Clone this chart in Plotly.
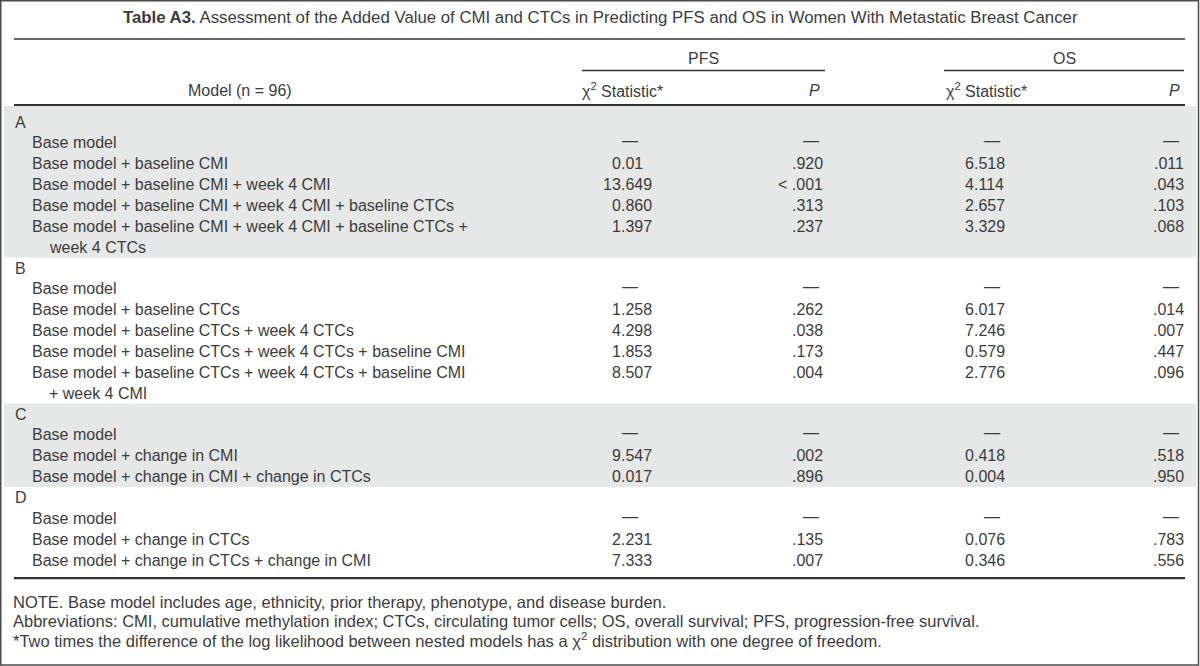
import plotly.graph_objects as go

# ---------------- data ----------------
title_bold = "Table A3."
title_rest = "Assessment of the Added Value of CMI and CTCs in Predicting PFS and OS in Women With Metastatic Breast Cancer"
model_header = "Model (n = 96)"
group_headers = ["PFS", "OS"]
stat_header = "χ<sup>2</sup> Statistic*"
p_header = "<i>P</i>"

section_labels = ["A", "B", "C", "D"]

models_A = ["Base model", "Base model + baseline CMI", "Base model + baseline CMI + week 4 CMI",
            "Base model + baseline CMI + week 4 CMI + baseline CTCs",
            "Base model + baseline CMI + week 4 CMI + baseline CTCs +|week 4 CTCs"]
pfs_chi_A = ["—", "0.01", "13.649", "0.860", "1.397"]
pfs_p_A = ["—", ".920", "< .001", ".313", ".237"]
os_chi_A = ["—", "6.518", "4.114", "2.657", "3.329"]
os_p_A = ["—", ".011", ".043", ".103", ".068"]

models_B = ["Base model", "Base model + baseline CTCs", "Base model + baseline CTCs + week 4 CTCs",
            "Base model + baseline CTCs + week 4 CTCs + baseline CMI",
            "Base model + baseline CTCs + week 4 CTCs + baseline CMI|+ week 4 CMI"]
pfs_chi_B = ["—", "1.258", "4.298", "1.853", "8.507"]
pfs_p_B = ["—", ".262", ".038", ".173", ".004"]
os_chi_B = ["—", "6.017", "7.246", "0.579", "2.776"]
os_p_B = ["—", ".014", ".007", ".447", ".096"]

models_C = ["Base model", "Base model + change in CMI", "Base model + change in CMI + change in CTCs"]
pfs_chi_C = ["—", "9.547", "0.017"]
pfs_p_C = ["—", ".002", ".896"]
os_chi_C = ["—", "0.418", "0.004"]
os_p_C = ["—", ".518", ".950"]

models_D = ["Base model", "Base model + change in CTCs", "Base model + change in CTCs + change in CMI"]
pfs_chi_D = ["—", "2.231", "7.333"]
pfs_p_D = ["—", ".135", ".007"]
os_chi_D = ["—", "0.076", "0.346"]
os_p_D = ["—", ".783", ".556"]

footnotes = [
    "NOTE. Base model includes age, ethnicity, prior therapy, phenotype, and disease burden.",
    "Abbreviations: CMI, cumulative methylation index; CTCs, circulating tumor cells; OS, overall survival; PFS, progression-free survival.",
    "*Two times the difference of the log likelihood between nested models has a χ<sup>2</sup> distribution with one degree of freedom.",
]

sections = [
    (models_A, pfs_chi_A, pfs_p_A, os_chi_A, os_p_A),
    (models_B, pfs_chi_B, pfs_p_B, os_chi_B, os_p_B),
    (models_C, pfs_chi_C, pfs_p_C, os_chi_C, os_p_C),
    (models_D, pfs_chi_D, pfs_p_D, os_chi_D, os_p_D),
]

# ---------------- style / layout ----------------
W, H = 1200, 666
FONT = "Liberation Sans"
TXT = "#3c3c3c"
LINE = "#333333"
BAND = "#e6e7e7"
FS = 16

X_SEC = 15
X_MODEL = 32
X_CONT = 49
X_PFS_DEC = 621
X_PFS_DASH = 630
X_PFS_P = 823
X_OS_DEC = 974
X_OS_DASH = 992
X_OS_P = 1184
RULE_L, RULE_R = 14, 1185

Y_FIRST = 122
STEP = 20.86
Y_HEADER_LINE = 105

fig = go.Figure()
fig.add_trace(go.Scatter(x=[0, W], y=[0, H], mode="markers", marker=dict(opacity=0), hoverinfo="skip"))

ann = []
shapes = []


def text(x, y, s, anchor="left", size=FS, color=TXT):
    ann.append(dict(x=x, y=y, xref="x", yref="y", text=s, showarrow=False, xanchor=anchor,
                    yanchor="middle", font=dict(family=FONT, size=size, color=color),
                    borderpad=0, borderwidth=0))


def hline(y, x0, x1, w):
    shapes.append(dict(type="line", xref="x", yref="y", x0=x0, x1=x1, y0=y, y1=y,
                       line=dict(color=LINE, width=w)))


def decimal(xdec, y, s):
    if s == "—":
        return False
    ip, fp = s.split(".")
    text(xdec, y, ip, "right")
    text(xdec, y, "." + fp, "left")
    return True


# title
text(600, 17, "<b>" + title_bold + "</b> " + title_rest, "center", size=16.8)
hline(39, RULE_L, RULE_R, 1.5)

# column headers
text((582 + 825) / 2, 58, group_headers[0], "center")
text((944 + 1184) / 2, 58, group_headers[1], "center")
hline(70.5, 582, 825, 1.5)
hline(70.5, 944, 1184, 1.5)
text(240, 90, model_header, "center")
text(582, 90, stat_header, "left")
text(820, 90, p_header, "right")
text(946, 90, stat_header, "left")
text(1180, 90, p_header, "right")
hline(Y_HEADER_LINE, RULE_L, RULE_R, 2.2)

# body
line_i = 0
band_edges = []
for si, (models, pc, pp, oc, op) in enumerate(sections):
    y_start_line = line_i
    text(X_SEC, Y_FIRST + line_i * STEP, section_labels[si])
    line_i += 1
    for r, m in enumerate(models):
        y = Y_FIRST + line_i * STEP
        parts = m.split("|")
        text(X_MODEL, y, parts[0])
        if not decimal(X_PFS_DEC, y, pc[r]):
            text(X_PFS_DASH, y - 2, pc[r], "center")
        text(X_PFS_P if pp[r] != "—" else X_PFS_P - 4, y - (2 if pp[r] == "—" else 0), pp[r], "right")
        if not decimal(X_OS_DEC, y, oc[r]):
            text(X_OS_DASH, y - 2, oc[r], "center")
        text(X_OS_P if op[r] != "—" else X_OS_P - 5, y - (2 if op[r] == "—" else 0), op[r], "right")
        line_i += 1
        for extra in parts[1:]:
            text(X_CONT, Y_FIRST + line_i * STEP, extra)
            line_i += 1
    band_edges.append((y_start_line, line_i - 1))

# shaded bands for A and C
for si in (0, 2):
    a, b = band_edges[si]
    top = Y_HEADER_LINE + 1 if si == 0 else Y_FIRST + (a - 0.5) * STEP
    bot = Y_FIRST + (b + 0.5) * STEP
    shapes.insert(0, dict(type="rect", xref="x", yref="y", x0=4, x1=1196, y0=top, y1=bot,
                          fillcolor=BAND, line=dict(width=0), layer="below"))

y_bottom = Y_FIRST + (line_i - 1) * STEP + 18
hline(y_bottom, RULE_L, RULE_R, 2.2)

for i, f in enumerate(footnotes):
    text(13, 602 + i * 19, f, size=16.5)

# outer frame
shapes.append(dict(type="rect", xref="x", yref="y", x0=0.75, x1=1198.5, y0=0.75, y1=665,
                   line=dict(color="#4a4a4a", width=1.5)))

fig.update_layout(
    width=W, height=H, margin=dict(l=0, r=0, t=0, b=0),
    paper_bgcolor="white", plot_bgcolor="white", showlegend=False,
    xaxis=dict(range=[0, W], visible=False, fixedrange=True),
    yaxis=dict(range=[H, 0], visible=False, fixedrange=True),
    annotations=ann, shapes=shapes,
)
fig.write_html("out.html", config={"staticPlot": True},
               post_script="document.body.style.margin='0';document.body.style.overflow='hidden';")
